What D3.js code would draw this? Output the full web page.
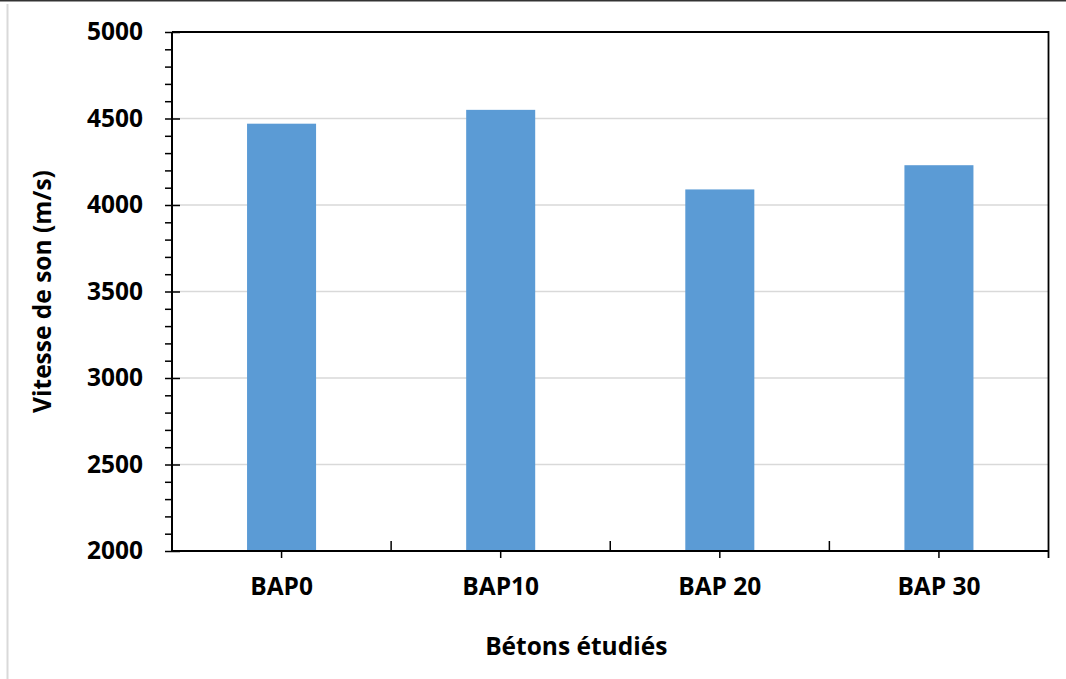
<!DOCTYPE html>
<html>
<head>
<meta charset="utf-8">
<script src="https://cdn.jsdelivr.net/npm/d3@7"></script>
<style>
  html, body { margin: 0; padding: 0; background: #fff; }
  svg { display: block; }
  text { font-family: "Open Sans", sans-serif; font-weight: 700; fill: #000; }
</style>
</head>
<body>
<svg id="chart" width="1066" height="679"></svg>
<script>
// Ultrasonic pulse velocity for each concrete mix
const categories = ["BAP0", "BAP10", "BAP 20", "BAP 30"];
const velocities = [4470, 4550, 4090, 4230];
const yMajorTicks = [2000, 2500, 3000, 3500, 4000, 4500, 5000];
const yMinorTicks = d3.range(2000, 5001, 100).filter(v => v % 500 !== 0);
const xTitle = "Bétons étudiés";
const yTitle = "Vitesse de son (m/s)";

const svg = d3.select("#chart");
const W = 1066, H = 679;
const plot = { left: 172, top: 32, right: 1048.5, bottom: 551 };

// page frame: dark top rule and pale left rule
svg.append("line").attr("x1", 0).attr("x2", W).attr("y1", 0.75).attr("y2", 0.75)
  .attr("stroke", "#333").attr("stroke-width", 1.5);
svg.append("line").attr("x1", 7.5).attr("x2", 7.5).attr("y1", 4).attr("y2", H)
  .attr("stroke", "#d9d9d9").attr("stroke-width", 2);

const x = d3.scaleBand()
  .domain(categories)
  .range([plot.left, plot.right])
  .paddingInner(0.685)
  .paddingOuter(0.3425);

const y = d3.scaleLinear()
  .domain([2000, 5000])
  .range([plot.bottom, plot.top]);

// horizontal gridlines
svg.append("g")
  .selectAll("line")
  .data(yMajorTicks.filter(v => v > 2000 && v < 5000))
  .join("line")
  .attr("x1", plot.left).attr("x2", plot.right)
  .attr("y1", d => y(d)).attr("y2", d => y(d))
  .attr("stroke", "#d9d9d9").attr("stroke-width", 1.5);

// bars
svg.append("g")
  .selectAll("rect")
  .data(categories.map((c, i) => ({ c, v: velocities[i] })))
  .join("rect")
  .attr("x", d => x(d.c))
  .attr("width", x.bandwidth())
  .attr("y", d => y(d.v))
  .attr("height", d => y(2000) - y(d.v))
  .attr("fill", "#5b9bd5");

// plot frame: top and right edges
svg.append("path")
  .attr("d", `M${plot.left},${plot.top}H${plot.right}V${plot.bottom}`)
  .attr("fill", "none").attr("stroke", "#000").attr("stroke-width", 1.8);

// y axis: major ticks cross the axis, minor ticks outside
const yAxis = svg.append("g").attr("transform", `translate(${plot.left},0)`);
yAxis.call(d3.axisLeft(y).tickValues(yMinorTicks).tickSize(7).tickFormat(""))
  .call(g => g.select(".domain").remove())
  .call(g => g.selectAll("line").attr("stroke", "#000").attr("stroke-width", 1.5));
const yMajor = svg.append("g").attr("transform", `translate(${plot.left},0)`);
yMajor.call(d3.axisLeft(y).tickValues(yMajorTicks).tickSize(7).tickPadding(22).tickFormat(d3.format("d")))
  .call(g => g.select(".domain").remove())
  .call(g => g.selectAll("line").attr("x2", 8).attr("x1", -7).attr("stroke", "#000").attr("stroke-width", 1.5))
  .call(g => g.selectAll("text").attr("font-size", 24.5).attr("font-family", "Open Sans").attr("font-weight", 700).attr("fill", "#000"));
svg.append("line")
  .attr("x1", plot.left).attr("x2", plot.left)
  .attr("y1", plot.top).attr("y2", plot.bottom)
  .attr("stroke", "#000").attr("stroke-width", 2);

// x axis: center ticks outward, category boundary ticks inward
const xAxis = svg.append("g").attr("transform", `translate(0,${plot.bottom})`);
xAxis.call(d3.axisBottom(x).tickSize(7).tickPadding(20))
  .call(g => g.select(".domain").remove())
  .call(g => g.selectAll("line").attr("stroke", "#000").attr("stroke-width", 1.5))
  .call(g => g.selectAll("text").attr("font-size", 24.5).attr("font-family", "Open Sans").attr("font-weight", 700).attr("fill", "#000"));
const step = x.step();
const boundaries = categories.slice(1).map(c => x(c) + x.bandwidth() / 2 - step / 2);
xAxis.append("g").selectAll("line")
  .data(boundaries)
  .join("line")
  .attr("x1", d => d).attr("x2", d => d)
  .attr("y1", 0).attr("y2", -10)
  .attr("stroke", "#000").attr("stroke-width", 1.5);
xAxis.append("line")
  .attr("x1", plot.right).attr("x2", plot.right).attr("y1", 0).attr("y2", 7)
  .attr("stroke", "#000").attr("stroke-width", 1.8);
svg.append("line")
  .attr("x1", plot.left - 1).attr("x2", plot.right)
  .attr("y1", plot.bottom).attr("y2", plot.bottom)
  .attr("stroke", "#000").attr("stroke-width", 2);

// axis titles
svg.append("text")
  .attr("x", (plot.left + plot.right) / 2 - 34)
  .attr("y", 655)
  .attr("text-anchor", "middle")
  .attr("font-size", 24.5)
  .text(xTitle);

svg.append("text")
  .attr("transform", `translate(51,${(plot.top + plot.bottom) / 2}) rotate(-90)`)
  .attr("text-anchor", "middle")
  .attr("font-size", 24.5)
  .text(yTitle);
</script>
</body>
</html>
